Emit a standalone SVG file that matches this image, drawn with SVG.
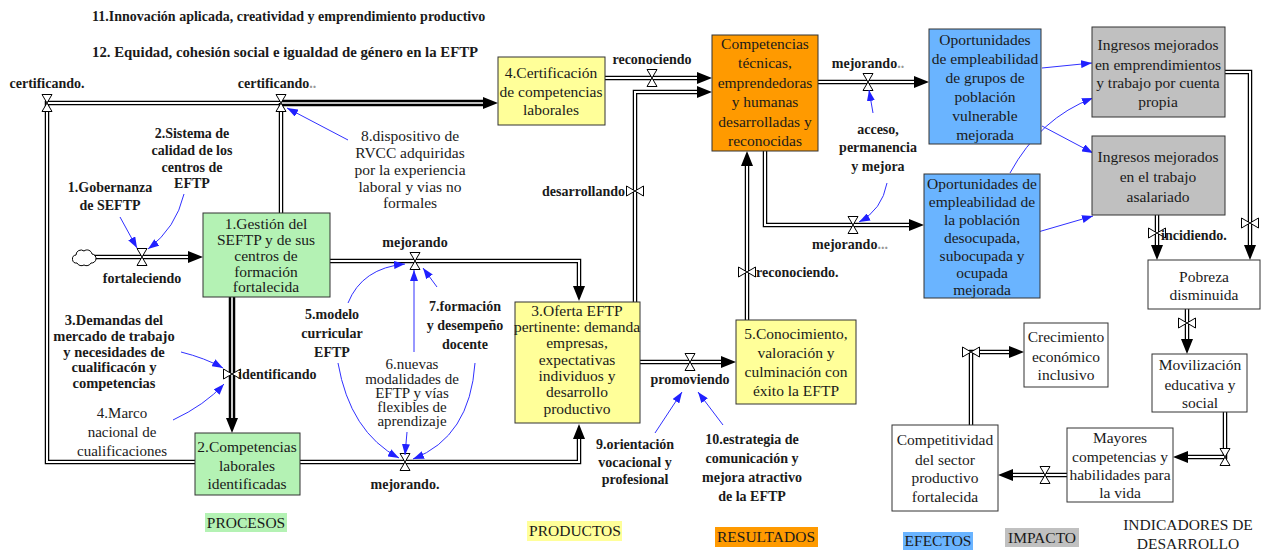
<svg xmlns="http://www.w3.org/2000/svg" xmlns:xlink="http://www.w3.org/1999/xlink" width="1264" height="550" viewBox="0 0 1264 550" font-family="'Liberation Serif', 'DejaVu Serif', serif">
<style>
svg text, svg tspan{font-family:"Liberation Serif","DejaVu Serif",serif}
text{fill:#1a1a1a}
.bx{font-size:15.5px;text-anchor:middle}
.lb{font-size:14px;font-weight:bold;text-anchor:middle}
.nl{font-size:15px;text-anchor:middle}
.lg{font-size:15.5px;text-anchor:middle}
.ttl{font-size:14px;font-weight:bold}
.po{fill:none;stroke:#000;stroke-width:4.5;stroke-linejoin:miter}
.pt{fill:none;stroke:#000;stroke-width:6.5;stroke-linejoin:miter}
.pi{fill:none;stroke:#fff;stroke-width:2}
.pti{fill:none;stroke:#fff;stroke-width:1.6}
.arr{marker-end:url(#ah)}
.bl{fill:none;stroke:#3030ff;stroke-width:1;marker-end:url(#ab)}
.g{fill:#b4f2b4;stroke:#333;stroke-width:1}
.y{fill:#ffff99;stroke:#333;stroke-width:1}
.o{fill:#ff9a00;stroke:#333;stroke-width:1}
.b{fill:#6ab4ff;stroke:#333;stroke-width:1}
.gr{fill:#c0c0c0;stroke:#333;stroke-width:1}
.w{fill:#fff;stroke:#333;stroke-width:1}
.dots{fill:#999}
</style>
<defs>
<marker id="ah" markerUnits="userSpaceOnUse" markerWidth="15" markerHeight="12" refX="0" refY="6" orient="auto" viewBox="0 0 15 12"><path d="M0,0 L15,6 L0,12 Z" fill="#000"/></marker>
<marker id="ab" markerUnits="userSpaceOnUse" markerWidth="11" markerHeight="8" refX="11" refY="4" orient="auto" viewBox="0 0 11 8"><path d="M0,0 L11,4 L0,8 Z" fill="#2020ff"/></marker>
<g id="vh"><path d="M-5,-8.5 H5 L-5,8.5 H5 Z" fill="#fff" stroke="#000" stroke-width="1"/></g>
<g id="vv"><path d="M-8.5,-5 V5 L8.5,-5 V5 Z" fill="#fff" stroke="#000" stroke-width="1"/></g>
</defs>
<rect width="1264" height="550" fill="#fff"/>

<g id="titles">
<text class="ttl" x="92" y="21">11.Innovación aplicada, creatividad y emprendimiento productivo</text>
<text class="ttl" x="92" y="57" style="font-size:14.8px">12. Equidad, cohesión social e igualdad de género en la EFTP</text>
</g>

<g id="connectors">
<path class="po" d="M195,462 H47 V103 H281"/><path class="pi" d="M195,462 H47 V103 H281"/>
<path class="po" d="M281,213 V103"/><path class="pi" d="M281,213 V103"/>
<path class="pt arr" d="M281,103 H483"/><path class="pti" d="M281,103 H483"/>
<path class="po arr" d="M92,257 H188"/><path class="pi" d="M92,257 H188"/>
<path class="po arr" d="M330,261 H579 V286"/><path class="pi" d="M330,261 H579 V286"/>
<path class="pt arr" d="M232,297 V418"/><path class="pti" d="M232,297 V418"/>
<path class="po arr" d="M300,462 H579 V439"/><path class="pi" d="M300,462 H579 V439"/>
<path class="po arr" d="M605,78 H697"/><path class="pi" d="M605,78 H697"/>
<path class="po arr" d="M635,303 V92 H697"/><path class="pi" d="M635,303 V92 H697"/>
<path class="po arr" d="M747,320 V166"/><path class="pi" d="M747,320 V166"/>
<path class="po arr" d="M818,82 H914"/><path class="pi" d="M818,82 H914"/>
<path class="po arr" d="M765,150 V225 H909"/><path class="pi" d="M765,150 V225 H909"/>
<path class="po arr" d="M640,362 H721"/><path class="pi" d="M640,362 H721"/>
<path class="po arr" d="M1225,72 H1250 V245"/><path class="pi" d="M1225,72 H1250 V245"/>
<path class="po arr" d="M1157,215 V245"/><path class="pi" d="M1157,215 V245"/>
<path class="po arr" d="M1187,309 V339"/><path class="pi" d="M1187,309 V339"/>
<path class="po arr" d="M1225,412 V457 H1188"/><path class="pi" d="M1225,412 V457 H1188"/>
<path class="po arr" d="M1067,475 H1013"/><path class="pi" d="M1067,475 H1013"/>
<path class="po arr" d="M971,425 V352 H1009"/><path class="pi" d="M971,425 V352 H1009"/>
<path d="M77,263 a4,4 0 0 1 -1,-8 a5,5 0 0 1 8,-4 a5,5 0 0 1 8,3 a4.5,4.5 0 0 1 -1,9 a5,5 0 0 1 -7,2 a5,5 0 0 1 -7,-2 Z" fill="#fff" stroke="#000" stroke-width="1"/>
<use xlink:href="#vh" x="47" y="103"/>
<use xlink:href="#vh" x="281" y="103"/>
<use xlink:href="#vh" x="142" y="257"/>
<use xlink:href="#vv" x="232" y="374"/>
<use xlink:href="#vh" x="415" y="261"/>
<use xlink:href="#vh" x="405" y="462"/>
<use xlink:href="#vh" x="652" y="78"/>
<use xlink:href="#vv" x="635" y="191"/>
<use xlink:href="#vv" x="747" y="272"/>
<use xlink:href="#vh" x="868" y="82"/>
<use xlink:href="#vh" x="853" y="225"/>
<use xlink:href="#vh" x="690" y="362"/>
<use xlink:href="#vv" x="1250" y="223"/>
<use xlink:href="#vv" x="1157" y="233"/>
<use xlink:href="#vv" x="1187" y="323"/>
<use xlink:href="#vh" x="1225" y="457"/>
<use xlink:href="#vh" x="1045" y="475"/>
<use xlink:href="#vv" x="971" y="352"/>
<path class="bl" d="M120,217 L137,248"/>
<path class="bl" d="M184,194 Q176,228 148,249"/>
<path class="bl" d="M181,352 Q205,358 223,368"/>
<path class="bl" d="M173,420 Q205,405 224,384"/>
<path class="bl" d="M348,140 L287,108"/>
<path class="bl" d="M348,303 Q362,268 405,264"/>
<path class="bl" d="M414,352 V270"/>
<path class="bl" d="M437,287 L423,268"/>
<path class="bl" d="M338,363 Q350,432 399,458"/>
<path class="bl" d="M407,432 L405,455"/>
<path class="bl" d="M475,363 Q470,437 413,459"/>
<path class="bl" d="M873,113 L869,90"/>
<path class="bl" d="M887,183 Q882,210 859,222"/>
<path class="bl" d="M655,433 L682,392"/>
<path class="bl" d="M723,425 L698,392"/>
<path class="bl" d="M1042,68 L1092,63"/>
<path class="bl" d="M1042,126 L1093,153"/>
<path class="bl" d="M1010,173 Q1040,118 1093,98"/>
<path class="bl" d="M1038,232 L1093,216"/>
<text class="lb" x="47" y="88">certificando.</text>
<text class="lb" x="277" y="88">certificando<tspan class="dots">..</tspan></text>
<text class="lb" x="142" y="283">fortaleciendo</text>
<text class="lb" x="238" y="379" style="text-anchor:start">identificando</text>
<text class="lb" x="415" y="247">mejorando</text>
<text class="lb" x="405" y="489">mejorando.</text>
<text class="lb" x="652" y="64">reconociendo</text>
<text class="lb" x="625" y="196" style="text-anchor:end">desarrollando</text>
<text class="lb" x="756" y="277" style="text-anchor:start">reconociendo.</text>
<text class="lb" x="868" y="68">mejorando<tspan class="dots">..</tspan></text>
<text class="lb" x="850" y="249">mejorando<tspan class="dots">...</tspan></text>
<text class="lb" x="690" y="384">promoviendo</text>
<text class="lb" x="1161" y="240" style="text-anchor:start">incidiendo.</text>
</g>

<g id="factors">
<text class="lb"><tspan x="110" y="192">1.Gobernanza</tspan><tspan x="110" y="210">de SEFTP</tspan></text>
<text class="lb"><tspan x="192" y="138">2.Sistema de</tspan><tspan x="192" y="155">calidad de los</tspan><tspan x="192" y="172">centros de</tspan><tspan x="192" y="188">EFTP</tspan></text>
<text class="lb" style="font-size:14.5px"><tspan x="114" y="325">3.Demandas del</tspan><tspan x="114" y="341">mercado de trabajo</tspan><tspan x="114" y="357">y necesidades de</tspan><tspan x="114" y="372">cualificacón y</tspan><tspan x="114" y="388">competencias</tspan></text>
<text class="nl"><tspan x="122" y="418">4.Marco</tspan><tspan x="122" y="437">nacional de</tspan><tspan x="122" y="456">cualificaciones</tspan></text>
<text class="lb"><tspan x="332" y="319">5.modelo</tspan><tspan x="332" y="338">curricular</tspan><tspan x="332" y="357">EFTP</tspan></text>
<text class="nl"><tspan x="412" y="369">6.nuevas</tspan><tspan x="412" y="384">modalidades de</tspan><tspan x="412" y="398">EFTP y vías</tspan><tspan x="412" y="412">flexibles de</tspan><tspan x="412" y="426">aprendizaje</tspan></text>
<text class="lb"><tspan x="465" y="311">7.formación</tspan><tspan x="465" y="330">y desempeño</tspan><tspan x="465" y="349">docente</tspan></text>
<text class="nl" style="font-size:15.5px"><tspan x="410" y="141">8.dispositivo de</tspan><tspan x="410" y="158">RVCC adquiridas</tspan><tspan x="410" y="175">por la experiencia</tspan><tspan x="410" y="192">laboral y vias no</tspan><tspan x="410" y="208">formales</tspan></text>
<text class="lb"><tspan x="635" y="449">9.orientación</tspan><tspan x="635" y="467">vocacional y</tspan><tspan x="635" y="484">profesional</tspan></text>
<text class="lb"><tspan x="752" y="444">10.estrategia de</tspan><tspan x="752" y="463">comunicación y</tspan><tspan x="752" y="482">mejora atractivo</tspan><tspan x="752" y="501">de la EFTP</tspan></text>
<text class="lb"><tspan x="878" y="134">acceso,</tspan><tspan x="878" y="152">permanencia</tspan><tspan x="878" y="171">y mejora</tspan></text>
</g>

<g id="n-gestion"><rect class="g" x="203" y="213" width="127" height="84"/>
<text class="bx"><tspan x="266" y="229">1.Gestión del</tspan><tspan x="266" y="245">SEFTP y de sus</tspan><tspan x="266" y="261">centros de</tspan><tspan x="266" y="277">formación</tspan><tspan x="266" y="292">fortalecida</tspan></text></g>

<g id="n-competencias-laborales"><rect class="g" x="195" y="433" width="105" height="62"/>
<text class="bx"><tspan x="247" y="452">2.Competencias</tspan><tspan x="247" y="471">laborales</tspan><tspan x="247" y="489">identificadas</tspan></text></g>

<g id="n-certificacion"><rect class="y" x="498" y="57" width="107" height="68"/>
<text class="bx"><tspan x="551" y="78">4.Certificación</tspan><tspan x="551" y="97">de competencias</tspan><tspan x="551" y="115">laborales</tspan></text></g>

<g id="n-oferta"><rect class="y" x="515" y="302" width="125" height="121"/>
<text class="bx"><tspan x="577" y="316">3.Oferta EFTP</tspan><tspan x="577" y="332">pertinente: demanda</tspan><tspan x="577" y="348">empresas,</tspan><tspan x="577" y="365">expectativas</tspan><tspan x="577" y="381">individuos y</tspan><tspan x="577" y="397">desarrollo</tspan><tspan x="577" y="414">productivo</tspan></text></g>

<g id="n-conocimiento"><rect class="y" x="736" y="320" width="120" height="84"/>
<text class="bx"><tspan x="796" y="339">5.Conocimiento,</tspan><tspan x="796" y="358">valoración y</tspan><tspan x="796" y="377">culminación con</tspan><tspan x="796" y="396">éxito la EFTP</tspan></text></g>

<g id="n-competencias-tecnicas"><rect class="o" x="712" y="35" width="106" height="116"/>
<text class="bx"><tspan x="765" y="49">Competencias</tspan><tspan x="765" y="68">técnicas,</tspan><tspan x="765" y="88">emprendedoras</tspan><tspan x="765" y="107">y humanas</tspan><tspan x="765" y="127">desarrolladas y</tspan><tspan x="765" y="146">reconocidas</tspan></text></g>

<g id="n-oport-vulnerable"><rect class="b" x="929" y="29" width="112" height="115"/>
<text class="bx"><tspan x="985" y="45">Oportunidades</tspan><tspan x="985" y="64">de empleabilidad</tspan><tspan x="985" y="83">de grupos de</tspan><tspan x="985" y="102">población</tspan><tspan x="985" y="121">vulnerable</tspan><tspan x="985" y="140">mejorada</tspan></text></g>

<g id="n-oport-desocupada"><rect class="b" x="924" y="174" width="116" height="124"/>
<text class="bx"><tspan x="982" y="189">Oportunidades de</tspan><tspan x="982" y="207">empleabilidad de</tspan><tspan x="982" y="225">la población</tspan><tspan x="982" y="243">desocupada,</tspan><tspan x="982" y="261">subocupada y</tspan><tspan x="982" y="278">ocupada</tspan><tspan x="982" y="295">mejorada</tspan></text></g>

<g id="n-ingresos-emprend"><rect class="gr" x="1092" y="27" width="133" height="90"/>
<text class="bx"><tspan x="1158" y="50">Ingresos mejorados</tspan><tspan x="1158" y="70">en emprendimientos</tspan><tspan x="1158" y="88">y trabajo por cuenta</tspan><tspan x="1158" y="107">propia</tspan></text></g>

<g id="n-ingresos-asalariado"><rect class="gr" x="1092" y="136" width="133" height="79"/>
<text class="bx"><tspan x="1158" y="162">Ingresos mejorados</tspan><tspan x="1158" y="182">en el trabajo</tspan><tspan x="1158" y="202">asalariado</tspan></text></g>

<g id="n-pobreza"><rect class="w" x="1148" y="260" width="112" height="49"/>
<text class="bx"><tspan x="1204" y="282">Pobreza</tspan><tspan x="1204" y="300">disminuida</tspan></text></g>

<g id="n-movilizacion"><rect class="w" x="1152" y="354" width="95" height="58"/>
<text class="bx"><tspan x="1200" y="370">Movilización</tspan><tspan x="1200" y="390">educativa y</tspan><tspan x="1200" y="408">social</tspan></text></g>

<g id="n-mayores"><rect class="w" x="1067" y="428" width="106" height="74"/>
<text class="bx"><tspan x="1120" y="443">Mayores</tspan><tspan x="1120" y="462">competencias y</tspan><tspan x="1120" y="480">habilidades para</tspan><tspan x="1120" y="498">la vida</tspan></text></g>

<g id="n-competitividad"><rect class="w" x="892" y="425" width="106" height="86"/>
<text class="bx"><tspan x="945" y="445">Competitividad</tspan><tspan x="945" y="465">del sector</tspan><tspan x="945" y="483">productivo</tspan><tspan x="945" y="502">fortalecida</tspan></text></g>

<g id="n-crecimiento"><rect class="w" x="1024" y="323" width="84" height="64"/>
<text class="bx"><tspan x="1066" y="342">Crecimiento</tspan><tspan x="1066" y="362">económico</tspan><tspan x="1066" y="380">inclusivo</tspan></text></g>

<g id="legend">
<rect x="205" y="513" width="82" height="19" fill="#b4f2b4"/><text class="lg" x="246" y="528">PROCESOS</text>
<rect x="527" y="521" width="95" height="20" fill="#ffff99"/><text class="lg" x="575" y="536">PRODUCTOS</text>
<rect x="715" y="527" width="103" height="20" fill="#ff9a00"/><text class="lg" x="766" y="542">RESULTADOS</text>
<rect x="903" y="532" width="70" height="18" fill="#6ab4ff"/><text class="lg" x="938" y="546">EFECTOS</text>
<rect x="1005" y="528" width="74" height="19" fill="#c0c0c0"/><text class="lg" x="1042" y="543">IMPACTO</text>
<text class="lg"><tspan x="1188" y="530">INDICADORES DE</tspan><tspan x="1188" y="549">DESARROLLO</tspan></text>
</g>
</svg>
